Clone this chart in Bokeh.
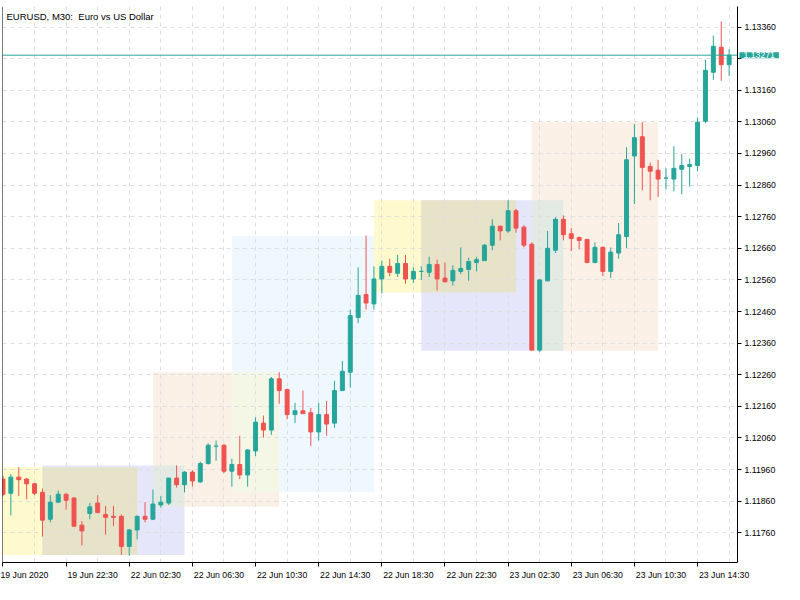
from bokeh.plotting import figure
from bokeh.models import FixedTicker, Range1d, Span, Label, PrintfTickFormatter, ColumnDataSource
from bokeh.embed import file_html
from bokeh.resources import INLINE

title_text = "EURUSD, M30:\u00a0 Euro vs US Dollar"

opens = [1.11930, 1.11885, 1.11936, 1.11930, 1.11915, 1.11888, 1.11803, 1.11857, 1.11882, 1.11870,
         1.11784, 1.11821, 1.11854, 1.11818, 1.11812, 1.11812, 1.11717, 1.11769, 1.11812, 1.11803,
         1.11848, 1.11854, 1.11933, 1.11912, 1.11952, 1.11921, 1.11979, 1.12034, 1.12037, 1.11955,
         1.11976, 1.11943, 1.12019, 1.12107, 1.12085, 1.12247, 1.12213, 1.12134, 1.12146, 1.12140,
         1.12079, 1.12134, 1.12107, 1.12210, 1.12268, 1.12441, 1.12514, 1.12484, 1.12563, 1.12603,
         1.12581, 1.12612, 1.12563, 1.12587, 1.12584, 1.12609, 1.12566, 1.12557, 1.12587, 1.12593,
         1.12615, 1.12621, 1.12670, 1.12730, 1.12715, 1.12779, 1.12727, 1.12673, 1.12338, 1.12557,
         1.12654, 1.12752, 1.12706, 1.12694, 1.12688, 1.12615, 1.12663, 1.12587, 1.12645, 1.12697,
         1.12952, 1.13013, 1.12919, 1.12907, 1.12882, 1.12879, 1.12910, 1.12919, 1.12922, 1.13062,
         1.13217, 1.13296, 1.13241]
highs = [1.11940, 1.11946, 1.11967, 1.11933, 1.11918, 1.11900, 1.11879, 1.11894, 1.11885, 1.11872,
         1.11797, 1.11854, 1.11879, 1.11845, 1.11845, 1.11818, 1.11772, 1.11815, 1.11857, 1.11897,
         1.11876, 1.11933, 1.11973, 1.11955, 1.11958, 1.11985, 1.12043, 1.12052, 1.12040, 1.11994,
         1.12067, 1.12025, 1.12125, 1.12131, 1.12253, 1.12268, 1.12216, 1.12171, 1.12210, 1.12155,
         1.12171, 1.12177, 1.12241, 1.12304, 1.12466, 1.12600, 1.12700, 1.12603, 1.12621, 1.12627,
         1.12639, 1.12639, 1.12600, 1.12603, 1.12633, 1.12624, 1.12615, 1.12606, 1.12663, 1.12630,
         1.12633, 1.12673, 1.12752, 1.12731, 1.12812, 1.12785, 1.12733, 1.12679, 1.12563, 1.12715,
         1.12758, 1.12764, 1.12724, 1.12697, 1.12690, 1.12679, 1.12666, 1.12663, 1.12740, 1.12980,
         1.13053, 1.13059, 1.12931, 1.12940, 1.12913, 1.12983, 1.12958, 1.12943, 1.13074, 1.13257,
         1.13333, 1.13378, 1.13290]
lows = [1.11876, 1.11815, 1.11876, 1.11866, 1.11879, 1.11748, 1.11793, 1.11854, 1.11833, 1.11779,
        1.11720, 1.11803, 1.11822, 1.11754, 1.11781, 1.11690, 1.11687, 1.11739, 1.11793, 1.11800,
        1.11839, 1.11848, 1.11903, 1.11888, 1.11906, 1.11918, 1.11976, 1.11988, 1.11949, 1.11906,
        1.11930, 1.11906, 1.12003, 1.12061, 1.12070, 1.12168, 1.12119, 1.12107, 1.12136, 1.12034,
        1.12052, 1.12067, 1.12092, 1.12209, 1.12219, 1.12423, 1.12466, 1.12466, 1.12517, 1.12572,
        1.12569, 1.12548, 1.12551, 1.12560, 1.12569, 1.12527, 1.12553, 1.12542, 1.12578, 1.12557,
        1.12587, 1.12620, 1.12654, 1.12685, 1.12709, 1.12709, 1.12663, 1.12335, 1.12332, 1.12556,
        1.12645, 1.12685, 1.12651, 1.12657, 1.12613, 1.12613, 1.12572, 1.12566, 1.12627, 1.12660,
        1.12800, 1.12843, 1.12812, 1.12822, 1.12846, 1.12840, 1.12831, 1.12855, 1.12904, 1.13056,
        1.13193, 1.13190, 1.13205]
closes = [1.11882, 1.11936, 1.11928, 1.11915, 1.11885, 1.11800, 1.11857, 1.11882, 1.11863, 1.11781,
          1.11766, 1.11842, 1.11824, 1.11809, 1.11809, 1.11717, 1.11769, 1.11812, 1.11803, 1.11851,
          1.11857, 1.11933, 1.11912, 1.11952, 1.11924, 1.11979, 1.12037, 1.12034, 1.11955, 1.11976,
          1.11943, 1.12022, 1.12110, 1.12085, 1.12247, 1.12210, 1.12134, 1.12146, 1.12137, 1.12079,
          1.12134, 1.12104, 1.12210, 1.12271, 1.12447, 1.12511, 1.12487, 1.12563, 1.12603, 1.12584,
          1.12612, 1.12563, 1.12587, 1.12587, 1.12609, 1.12563, 1.12554, 1.12590, 1.12596, 1.12618,
          1.12624, 1.12670, 1.12730, 1.12715, 1.12779, 1.12724, 1.12670, 1.12338, 1.12560, 1.12660,
          1.12752, 1.12703, 1.12691, 1.12685, 1.12615, 1.12663, 1.12587, 1.12648, 1.12703, 1.12940,
          1.13010, 1.12916, 1.12904, 1.12879, 1.12882, 1.12913, 1.12922, 1.12925, 1.13059, 1.13223,
          1.13299, 1.13241, 1.13271]

x_tick_idx = [0, 8, 16, 24, 32, 40, 48, 56, 64, 72, 80, 88]
x_tick_labels = ["19 Jun 2020", "19 Jun 22:30", "22 Jun 02:30", "22 Jun 06:30", "22 Jun 10:30",
                 "22 Jun 14:30", "22 Jun 18:30", "22 Jun 22:30", "23 Jun 02:30", "23 Jun 06:30",
                 "23 Jun 10:30", "23 Jun 14:30"]
y_ticks = [1.11760, 1.11860, 1.11960, 1.12060, 1.12160, 1.12260, 1.12360, 1.12460, 1.12560,
           1.12660, 1.12760, 1.12860, 1.12960, 1.13060, 1.13160, 1.13260, 1.13360]

current_price = 1.13271

zone_start = [-1, 5, 19, 29, 47, 53, 67]
zone_end = [17, 23, 35, 47, 65, 71, 83]
zone_top = [1.11967, 1.11973, 1.12268, 1.12700, 1.12812, 1.12812, 1.13059]
zone_bottom = [1.11690, 1.11690, 1.11842, 1.11888, 1.12520, 1.12336, 1.12336]
zone_color = ["#fffacd", "#e6e6fa", "#faf0e6", "#f0f8ff", "#fffacd", "#e6e6fa", "#faf0e6"]

UP = "#26a69a"
DOWN = "#ef5350"
FONT = "Liberation Sans"

x0, x1 = -0.06, 93.06
y0, y1 = 1.11666, 1.13425

p = figure(width=782, height=582, x_range=Range1d(x0, x1), y_range=Range1d(y0, y1),
           output_backend="svg", toolbar_location=None, y_axis_location="right",
           min_border_left=2, min_border_top=0, min_border_right=45, min_border_bottom=20)
p.outline_line_color = None
p.background_fill_color = "white"


def rgb(h):
    return tuple(int(h[i:i + 2], 16) for i in (1, 3, 5))


def xor_color(a, b):
    ca, cb = rgb(a), rgb(b)
    return "#%02x%02x%02x" % tuple(255 ^ u ^ v for u, v in zip(ca, cb))


# zones (base rectangles)
zsrc = ColumnDataSource(dict(left=zone_start, right=zone_end, top=zone_top,
                             bottom=zone_bottom, color=zone_color))
r = p.quad(left="left", right="right", top="top", bottom="bottom", fill_color="color",
           line_color=None, source=zsrc)
r.level = "image"

# overlaps are XOR-combined like the terminal does
ol, orr, ot, ob, oc = [], [], [], [], []
n = len(zone_start)
for i in range(n):
    for j in range(i + 1, n):
        l = max(zone_start[i], zone_start[j])
        rr = min(zone_end[i], zone_end[j])
        b = max(zone_bottom[i], zone_bottom[j])
        t = min(zone_top[i], zone_top[j])
        if l < rr and b < t:
            ol.append(l); orr.append(rr); ot.append(t); ob.append(b)
            oc.append(xor_color(zone_color[i], zone_color[j]))
osrc = ColumnDataSource(dict(left=ol, right=orr, top=ot, bottom=ob, color=oc))
r2 = p.quad(left="left", right="right", top="top", bottom="bottom", fill_color="color",
            line_color=None, source=osrc)
r2.level = "image"

# grid
p.xgrid.ticker = FixedTicker(ticks=list(range(0, 93, 4)))
p.ygrid.ticker = FixedTicker(ticks=y_ticks)
for g in (p.xgrid, p.ygrid):
    g.grid_line_color = "#dedede"
    g.grid_line_dash = "4 4"
    g.grid_line_width = 1

# candles
idx = list(range(len(opens)))
cols = [UP if c >= o else DOWN for o, c in zip(opens, closes)]
csrc = ColumnDataSource(dict(x=idx, o=opens, h=highs, l=lows, c=closes,
                             top=[max(o, c) for o, c in zip(opens, closes)],
                             bot=[min(o, c) for o, c in zip(opens, closes)],
                             color=cols))
p.segment(x0="x", y0="l", x1="x", y1="h", line_color="color", line_width=1, source=csrc)
p.vbar(x="x", width=0.5, top="top", bottom="bot", fill_color="color", line_color="color",
       line_width=1, source=csrc)

# current price line
p.add_layout(Span(location=current_price, dimension="width", line_color=UP, line_width=1))
# left frame line
p.add_layout(Span(location=x0, dimension="height", line_color="black", line_width=1))

# axes
NB = "\u00a0" * 22  # leading pad: each date label then starts at its tick, as in the terminal
xa = p.xaxis[0]
xa.ticker = FixedTicker(ticks=x_tick_idx)
xa.major_label_overrides = {t: (s if t == x_tick_idx[0] else NB + s)
                            for t, s in zip(x_tick_idx, x_tick_labels)}
ya = p.yaxis[0]
ya.ticker = FixedTicker(ticks=y_ticks)
ya.formatter = PrintfTickFormatter(format="%.5f")
# the price tag covers the tick label next to it
ya.major_label_overrides = {t: "" for t in y_ticks if abs(t - current_price) < 0.0002}
for ax in (xa, ya):
    ax.axis_line_color = "black"
    ax.major_tick_line_color = "black"
    ax.major_tick_in = 0
    ax.major_tick_out = 4
    ax.minor_tick_line_color = None
    ax.major_label_text_font = FONT
    ax.major_label_text_font_size = "8.7px"
    ax.major_label_text_color = "black"
    ax.major_label_standoff = 3

# price tag: side-panel annotations are not clipped to the frame
tag = Label(x=x1, y=current_price, text="1.13271", x_offset=2, text_align="left",
            text_baseline="middle", text_color="white", text_font=FONT,
            text_font_size="8.7px", background_fill_color=UP, padding=(4, 0),
            level="overlay")
p.add_layout(tag, "above")
# title
p.add_layout(Label(x=x0, y=y1, text=title_text, x_offset=4, y_offset=-4, text_align="left",
                   text_baseline="top", text_color="black", text_font=FONT,
                   text_font_size="9.5px"))

open("out.html", "w").write(file_html(p, INLINE))
